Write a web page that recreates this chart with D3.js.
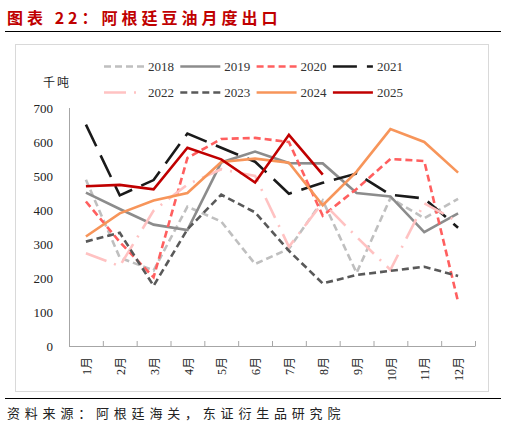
<!DOCTYPE html>
<html>
<head>
<meta charset="utf-8">
<script src="https://cdn.jsdelivr.net/npm/d3@7"></script>
<style>
    body { margin: 0; background: #fff; }
    svg { display: block; }
</style>
</head>
<body>
<svg id="chart" width="506" height="429"></svg>
<script>
// Monthly soybean oil exports, Argentina (thousand tonnes)
const months = ["1月", "2月", "3月", "4月", "5月", "6月", "7月", "8月", "9月", "10月", "11月", "12月"];
const yTicks = [0, 100, 200, 300, 400, 500, 600, 700];

const v2018 = [489, 260, 222, 410, 366, 241, 286, 428, 215, 435, 376, 433];
const v2019 = [451, 403, 357, 341, 540, 572, 538, 537, 450, 440, 335, 390];
const v2020 = [425, 306, 202, 553, 609, 612, 600, 383, 462, 550, 544, 130];
const v2021 = [651, 443, 488, 625, 583, 542, 448, 480, 507, 445, 434, 348];
const v2022 = [273, 235, 398, 475, 520, 500, 292, 422, 321, 224, 420, 365];
const v2023 = [307, 333, 177, 343, 445, 393, 280, 184, 209, 221, 233, 206];
const v2024 = [322, 390, 428, 450, 541, 551, 539, 414, 513, 638, 600, 510];
const v2025 = [470, 474, 461, 583, 549, 481, 621, 504];

const seriesNames = ["2018", "2019", "2020", "2021", "2022", "2023", "2024", "2025"];
const seriesValues = [v2018, v2019, v2020, v2021, v2022, v2023, v2024, v2025];

const styles = {
    "2018": { color: "#bfbfbf", dash: "7,4" },
    "2019": { color: "#8c8c8c", dash: null },
    "2020": { color: "#ff5f5f", dash: "7,4" },
    "2021": { color: "#1a1a1a", dash: "24,10" },
    "2022": { color: "#ffc2c2", dash: "22,8,2,8" },
    "2023": { color: "#595959", dash: "7,4" },
    "2024": { color: "#f7955a", dash: null },
    "2025": { color: "#c00000", dash: null }
};

const serif = "'Liberation Serif', 'Noto Sans CJK SC', serif";
const cjk = "'Noto Sans CJK SC', sans-serif";

const svg = d3.select("#chart");

// Title and rules
svg.append("text")
    .attr("x", 7).attr("y", 24)
    .attr("fill", "#c00000")
    .attr("font-family", cjk)
    .attr("font-weight", "bold")
    .attr("font-size", 16)
    .attr("letter-spacing", 4)
    .text("图表 22：阿根廷豆油月度出口");

svg.append("line")
    .attr("x1", 5).attr("x2", 501).attr("y1", 31.5).attr("y2", 31.5)
    .attr("stroke", "#000").attr("stroke-width", 1);

svg.append("rect")
    .attr("x", 15.5).attr("y", 44.5).attr("width", 473).attr("height", 347)
    .attr("fill", "none").attr("stroke", "#d9d9d9");

svg.append("line")
    .attr("x1", 5).attr("x2", 501).attr("y1", 398.5).attr("y2", 398.5)
    .attr("stroke", "#000").attr("stroke-width", 1);

svg.append("text")
    .attr("x", 7).attr("y", 418)
    .attr("fill", "#222")
    .attr("font-family", cjk)
    .attr("font-size", 13)
    .attr("letter-spacing", 4.8)
    .text("资料来源：阿根廷海关，东证衍生品研究院");

// Scales
const x = d3.scaleBand().domain(months).range([69, 475]);
const y = d3.scaleLinear().domain([0, 700]).range([346, 108]);
const cx = m => x(m) + x.bandwidth() / 2;

// Y axis
const yAxis = svg.append("g");
yAxis.append("line")
    .attr("x1", 69.5).attr("x2", 69.5).attr("y1", y(700)).attr("y2", y(0))
    .attr("stroke", "#a6a6a6");
yAxis.selectAll("text")
    .data(yTicks)
    .enter().append("text")
    .attr("x", 53).attr("y", d => y(d))
    .attr("dy", "0.35em")
    .attr("text-anchor", "end")
    .attr("font-family", serif)
    .attr("font-size", 13)
    .attr("fill", "#222")
    .text(d => d);

svg.append("text")
    .attr("x", 57).attr("y", 87)
    .attr("text-anchor", "middle")
    .attr("font-family", cjk)
    .attr("font-size", 12)
    .attr("letter-spacing", 2)
    .attr("fill", "#222")
    .text("千吨");

// X axis
const xAxis = svg.append("g");
xAxis.append("line")
    .attr("x1", 69).attr("x2", 475.5).attr("y1", 346.5).attr("y2", 346.5)
    .attr("stroke", "#a6a6a6");
xAxis.selectAll(".tick")
    .data(months)
    .enter().append("line")
    .attr("class", "tick")
    .attr("x1", d => x(d) + x.bandwidth() + 0.5)
    .attr("x2", d => x(d) + x.bandwidth() + 0.5)
    .attr("y1", 346).attr("y2", 341)
    .attr("stroke", "#a6a6a6");
xAxis.selectAll(".mlabel")
    .data(months)
    .enter().append("text")
    .attr("class", "mlabel")
    .attr("transform", d => `translate(${cx(d) + 1},357) rotate(-90)`)
    .attr("dy", "0.35em")
    .attr("text-anchor", "end")
    .attr("font-family", serif)
    .attr("font-size", 12)
    .attr("fill", "#222")
    .text(d => d);

// Lines
const line = d3.line()
    .x((d, i) => cx(months[i]))
    .y(d => y(d));

svg.append("g").selectAll("path")
    .data(seriesNames)
    .enter().append("path")
    .attr("d", (name, i) => line(seriesValues[i]))
    .attr("fill", "none")
    .attr("stroke", name => styles[name].color)
    .attr("stroke-width", 2.6)
    .attr("stroke-dasharray", name => styles[name].dash)
    .attr("stroke-linejoin", "miter");

// Legend
const legend = svg.append("g");
const items = legend.selectAll("g")
    .data(seriesNames)
    .enter().append("g")
    .attr("transform", (d, i) => `translate(${104 + (i % 4) * 76.3},${i < 4 ? 66.5 : 92.5})`);

items.append("line")
    .attr("x1", 0).attr("x2", 40).attr("y1", 0).attr("y2", 0)
    .attr("stroke", d => styles[d].color)
    .attr("stroke-width", 2.6)
    .attr("stroke-dasharray", d => styles[d].dash);

items.append("text")
    .attr("x", 44).attr("y", 0)
    .attr("dy", "0.35em")
    .attr("font-family", serif)
    .attr("font-size", 13)
    .attr("fill", "#333")
    .text(d => d);
</script>
</body>
</html>
